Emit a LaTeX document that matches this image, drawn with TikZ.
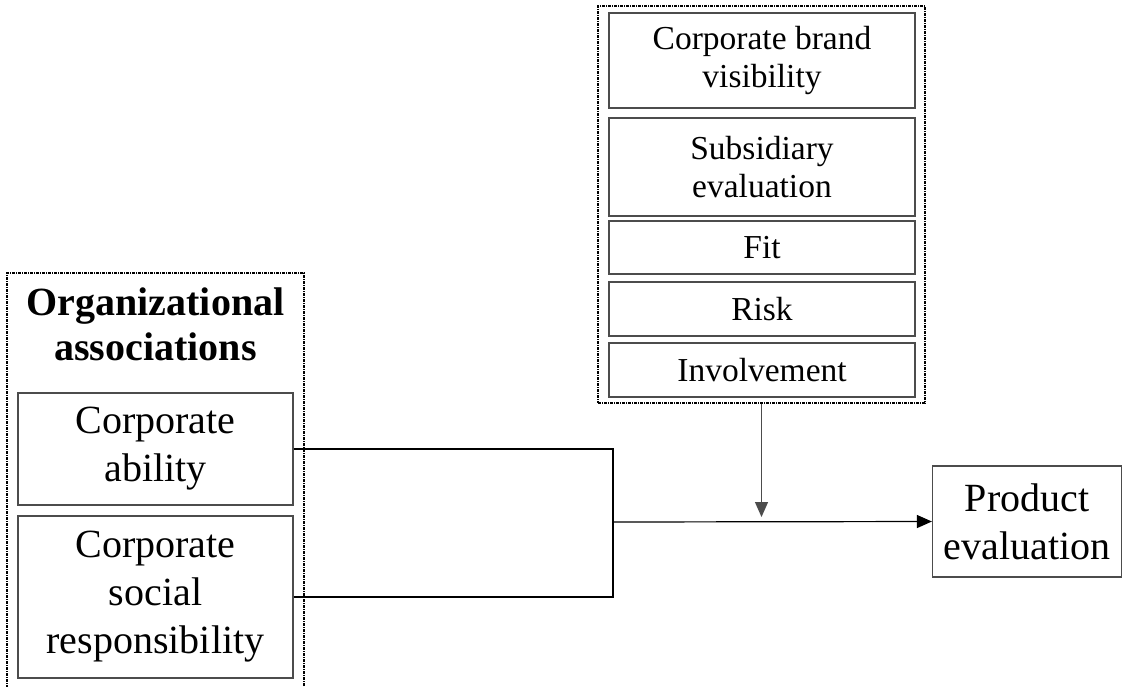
\documentclass[tikz,border=0pt]{standalone}
\usepackage{fontspec}
\setmainfont{Liberation Serif}
\usetikzlibrary{arrows.meta}

\begin{document}
\begin{tikzpicture}[x=1pt, y=-1pt,
	box/.style={draw=black!70, line width=1.2pt, inner sep=0pt, align=center, minimum width=306pt},
	big/.style={font=\fontsize{40}{48}\selectfont},
	small/.style={font=\fontsize{33.5}{38.5}\selectfont},
	group/.style={draw, line width=1.8pt, inner sep=0pt, dash pattern=on 3pt off 1pt on 1pt off 1pt},
	link/.style={line width=1.2pt},
	tip/.style={-{Triangle[length=15pt,width=13pt]}}]
	\useasboundingbox (0,0) rectangle (1123,686);
	\clip (0,0) rectangle (1123,686);

	%moderators
	\node[group, minimum width=327pt, minimum height=397pt] (mods) at (761.5,204.5) {};
	\node[box, small, minimum height=95pt] (visib) at (762,60.5) {Corporate brand\\visibility};
	\node[box, small, minimum height=98pt] (subs) at (762,167) {Subsidiary\\evaluation};
	\node[box, small, minimum height=53pt] (fit) at (762,247.5) {Fit};
	\node[box, small, minimum height=54pt] (risk) at (762,309) {Risk};
	\node[box, small, minimum height=54pt] (invol) at (762,370) {Involvement};

	%associations
	\node[group, minimum width=297pt, minimum height=440pt] (org) at (155.5,493) {};
	\node[font=\fontsize{40}{45}\selectfont\bfseries, align=center] (title) at (155.5,324) {Organizational\\associations};
	\node[box, big, minimum width=275pt, minimum height=112pt] (ability) at (155.5,449) {Corporate\\ability};
	\node[box, big, minimum width=275pt, minimum height=162pt] (csr) at (155.5,597) {Corporate\\social\\responsibility};

	%outcome
	\node[box, big, minimum width=189pt, minimum height=111pt] (prod) at (1027,521.5) {Product\\evaluation};

	%links
	\coordinate (join) at (613,522);
	\draw[link] (ability.east) -| (join);
	\draw[link] (csr.east) -| (join);
	\draw[link, tip] (join) -- (prod.west);
	\draw[link, draw=black!70, tip, shorten >=5pt] (mods.south) -- (mods.south |- join);
\end{tikzpicture}
\end{document}
